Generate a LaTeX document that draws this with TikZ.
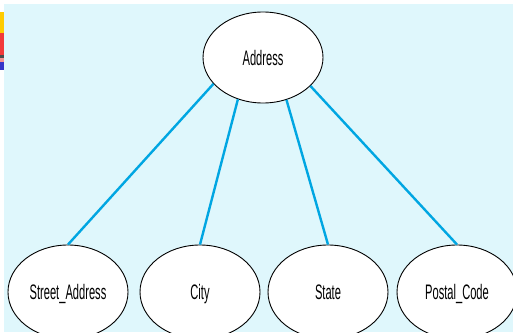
\documentclass[tikz,border=0pt]{standalone}
\usepackage{fontspec}
\setmainfont{Liberation Sans}[FakeStretch=0.53]
\definecolor{bgcyan}{HTML}{DFF7FC}
\definecolor{linkblue}{HTML}{00A6E2}
\definecolor{stripyellow}{HTML}{FFCC00}
\definecolor{stripred}{HTML}{F23A3A}
\definecolor{stripblue}{HTML}{3535C8}
\tikzset{
  attr/.style={ellipse, draw=black, line width=0.9pt, fill=white, inner sep=0pt,
    minimum width=120pt, minimum height=94pt, font=\fontsize{21}{23}\selectfont,
    text height=15pt, text depth=0pt},
  topattr/.style={attr, minimum height=91pt},
  link/.style={draw=linkblue, line width=2.4pt}
}
\usetikzlibrary{shapes.geometric}
\begin{document}
\begin{tikzpicture}[x=1pt,y=-1pt]
\useasboundingbox (0,0) rectangle (513,332);
\clip (0,0) rectangle (513,332);
\fill[white] (0,0) rectangle (513,332);
\fill[bgcyan] (4,4) rectangle (513,332);
% left colour strip
\fill[stripyellow] (0,12) rectangle (4,33);
\fill[stripred] (0,33) rectangle (4,55);
\fill[black!70] (0,55) rectangle (4,58);
\fill[stripred!55!white] (0,58) rectangle (4,62);
\fill[stripblue] (0,62) rectangle (4,70);
% nodes
\node[topattr] (addr) at (263,57.5) {Address};
\node[attr] (street) at (68,292) {Street\_Address};
\node[attr] (city) at (200,292) {City};
\node[attr] (state) at (328,292) {State};
\node[attr] (postal) at (457,292) {Postal\_Code};
% links
\draw[link] (addr.208.8) -- (street.north);
\draw[link] (addr.239.5) -- (city.north);
\draw[link] (addr.299.5) -- (state.north);
\draw[link] (addr.329.8) -- (postal.north);
\end{tikzpicture}
\end{document}
